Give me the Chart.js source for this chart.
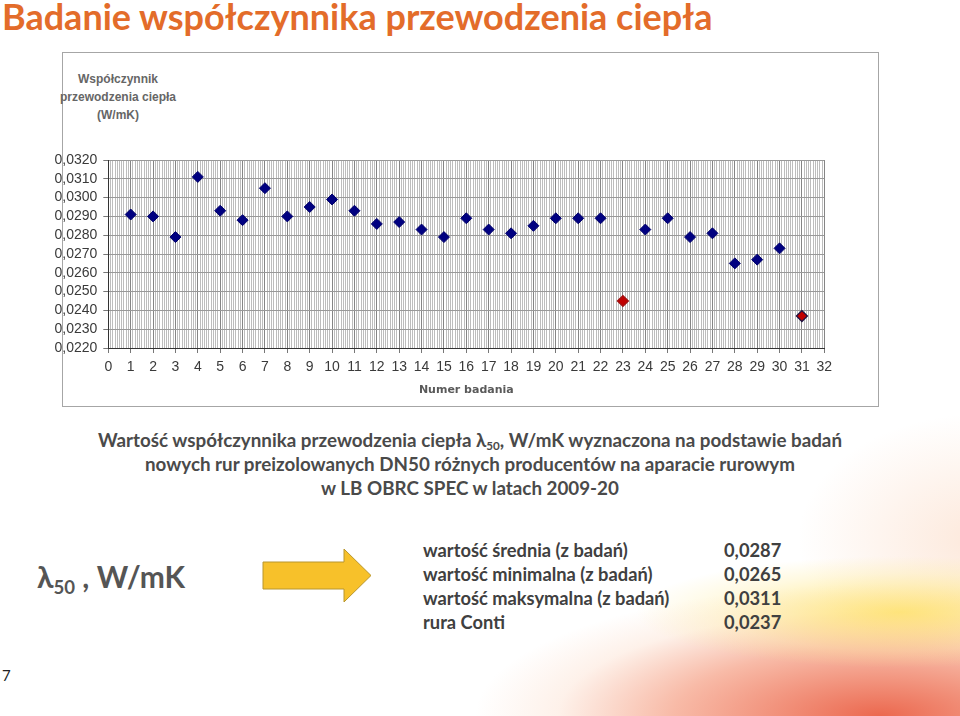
<!DOCTYPE html>
<html lang="pl">
<head>
<meta charset="utf-8">
<title>Badanie współczynnika przewodzenia ciepła</title>
<script src="https://cdn.jsdelivr.net/npm/chart.js@4.4.1/dist/chart.umd.min.js"></script>
<style>
  html, body { margin: 0; padding: 0; }
  body { width: 960px; height: 716px; position: relative; overflow: hidden; background: #fff; font-family: Lato, "Open Sans", sans-serif; }
  .swoosh {
    position: absolute; left: 0; top: 0; width: 960px; height: 716px;
    background:
      radial-gradient(ellipse 330px 70px at 900px 612px, rgba(255,225,90,0.75), rgba(255,235,150,0.3) 55%, transparent 80%),
      radial-gradient(ellipse 460px 150px at 880px 716px, rgba(232,78,48,0.85), rgba(242,130,95,0.55) 45%, rgba(250,200,170,0.25) 70%, transparent 88%),
      radial-gradient(ellipse 260px 180px at 980px 540px, rgba(250,205,175,0.45), transparent 70%);
  }
  .panel { position: absolute; left: 62px; top: 52px; width: 815px; height: 353px; background: #fff; border: 1px solid #a6a6a6; }
  .wrap { position: absolute; left: 40px; top: 52px; width: 838px; height: 354px; }
  .title { position: absolute; left: 2px; top: -6px; font: bold 36px Lato, sans-serif; color: #e36c2a; white-space: nowrap; }
  .ytitle { position: absolute; left: 38px; top: 70px; width: 160px; text-align: center; font: bold 12px "Liberation Sans", sans-serif; line-height: 18px; color: #666; white-space: nowrap; }
  .caption { position: absolute; left: 0; top: 428px; width: 940px; text-align: center; font: bold 18.8px Lato, sans-serif; line-height: 24px; color: #4a4a4a; }
  .caption sub, .lam sub { font-size: 62%; vertical-align: -0.3em; line-height: 0; }
  .lam { position: absolute; left: 37px; top: 558px; font: bold 30px Lato, sans-serif; color: #555; white-space: nowrap; }
  .tab { position: absolute; top: 538px; font: bold 18.3px Lato, sans-serif; line-height: 24px; color: #404040; white-space: nowrap; }
  .nr { position: absolute; left: 2px; top: 666px; font: 15px Lato, sans-serif; color: #222; }
  svg.arrow { position: absolute; left: 0; top: 0; }
</style>
</head>
<body>
<div class="swoosh"></div>
<div class="title">Badanie współczynnika przewodzenia ciepła</div>
<div class="panel"></div>
<div class="ytitle">Współczynnik<br>przewodzenia ciepła<br>(W/mK)</div>
<div class="wrap"><canvas id="wykres"></canvas></div>
<div class="caption">Wartość współczynnika przewodzenia ciepła λ<sub>50</sub>, W/mK wyznaczona na podstawie badań<br>nowych rur preizolowanych DN50 różnych producentów na aparacie rurowym<br>w LB OBRC SPEC w latach 2009-20</div>
<div class="lam">λ<sub>50</sub> , W/mK</div>
<svg class="arrow" width="400" height="640">
  <polygon points="263,562 344,562 344,549 371,575.5 344,602 344,589 263,589" fill="#f7c12a" stroke="#b8962e" stroke-width="1"/>
</svg>
<div class="tab" style="left:423px">wartość średnia (z badań)<br>wartość minimalna (z badań)<br>wartość maksymalna (z badań)<br>rura Conti</div>
<div class="tab" style="left:724px">0,0287<br>0,0265<br>0,0311<br>0,0237</div>
<div class="nr">7</div>

<script>
// numery badań i zmierzone wartości lambda
const numerBadania = [1, 2, 3, 4, 5, 6, 7, 8, 9, 10, 11, 12, 13, 14, 15, 16, 17, 18, 19, 20, 21, 22, 24, 25, 26, 27, 28, 29, 30];
const wartosci = [0.0291, 0.0290, 0.0279, 0.0311, 0.0293, 0.0288, 0.0305, 0.0290, 0.0295, 0.0299, 0.0293, 0.0286, 0.0287, 0.0283, 0.0279, 0.0289, 0.0283, 0.0281, 0.0285, 0.0289, 0.0289, 0.0289, 0.0283, 0.0289, 0.0279, 0.0281, 0.0265, 0.0267, 0.0273];

// punkty wyróżnione na czerwono
const numerOdstajace = [23, 31];
const wartosciOdstajace = [0.0245, 0.0237];

const osX = { min: 0, max: 32, krok: 0.1 };
const osY = { min: 0.022, max: 0.032, krok: 0.001 };

const calkowita = v => Math.abs(v - Math.round(v)) < 1e-6;

const ctx = document.getElementById('wykres').getContext('2d');
new Chart(ctx, {
    type: 'scatter',
    data: {
        datasets: [{
            label: 'badania',
            data: numerBadania.map((n, i) => ({ x: n, y: wartosci[i] })),
            pointStyle: 'rectRot',
            pointRadius: 5.5,
            backgroundColor: '#000080',
            borderColor: '#00006a',
            borderWidth: 1
        }, {
            label: 'wyróżnione',
            data: numerOdstajace.map((n, i) => ({ x: n, y: wartosciOdstajace[i] })),
            pointStyle: 'rectRot',
            pointRadius: 5.5,
            backgroundColor: '#c00000',
            borderColor: ['#a01010', '#1a1040'],
            borderWidth: 1.2
        }]
    },
    options: {
        responsive: true,
        maintainAspectRatio: false,
        animation: false,
        layout: {
            padding: { top: 108, right: 53.7, left: 0, bottom: 0 }
        },
        plugins: {
            legend: { display: false },
            tooltip: { enabled: false }
        },
        scales: {
            x: {
                type: 'linear',
                min: osX.min,
                max: osX.max,
                afterFit: s => { s.height = 58; },
                ticks: {
                    stepSize: osX.krok,
                    autoSkip: false,
                    maxRotation: 0,
                    minRotation: 0,
                    padding: 6,
                    color: '#3a3a3a',
                    font: { family: 'Liberation Sans', size: 14 },
                    callback: v => calkowita(v) ? String(Math.round(v)) : ''
                },
                grid: {
                    color: c => calkowita(c.tick.value) ? '#858585' : '#bdbdbd',
                    tickColor: c => calkowita(c.tick.value) ? '#777' : 'rgba(0,0,0,0)',
                    tickLength: 5
                },
                border: { color: '#333' },
                title: {
                    display: true,
                    text: 'Numer badania',
                    color: '#5a5a5a',
                    font: { family: 'DejaVu Sans', size: 11, weight: 'bold' },
                    padding: { top: 0, bottom: 9 }
                }
            },
            y: {
                min: osY.min,
                max: osY.max,
                afterFit: s => { s.width = 68.3; },
                ticks: {
                    stepSize: osY.krok,
                    autoSkip: false,
                    padding: 6,
                    color: '#3a3a3a',
                    font: { family: 'Liberation Sans', size: 14 },
                    callback: v => v.toFixed(4).replace('.', ',')
                },
                grid: {
                    color: '#999',
                    tickColor: '#777',
                    tickLength: 5
                },
                border: { color: '#333' }
            }
        }
    }
});
</script>
</body>
</html>
